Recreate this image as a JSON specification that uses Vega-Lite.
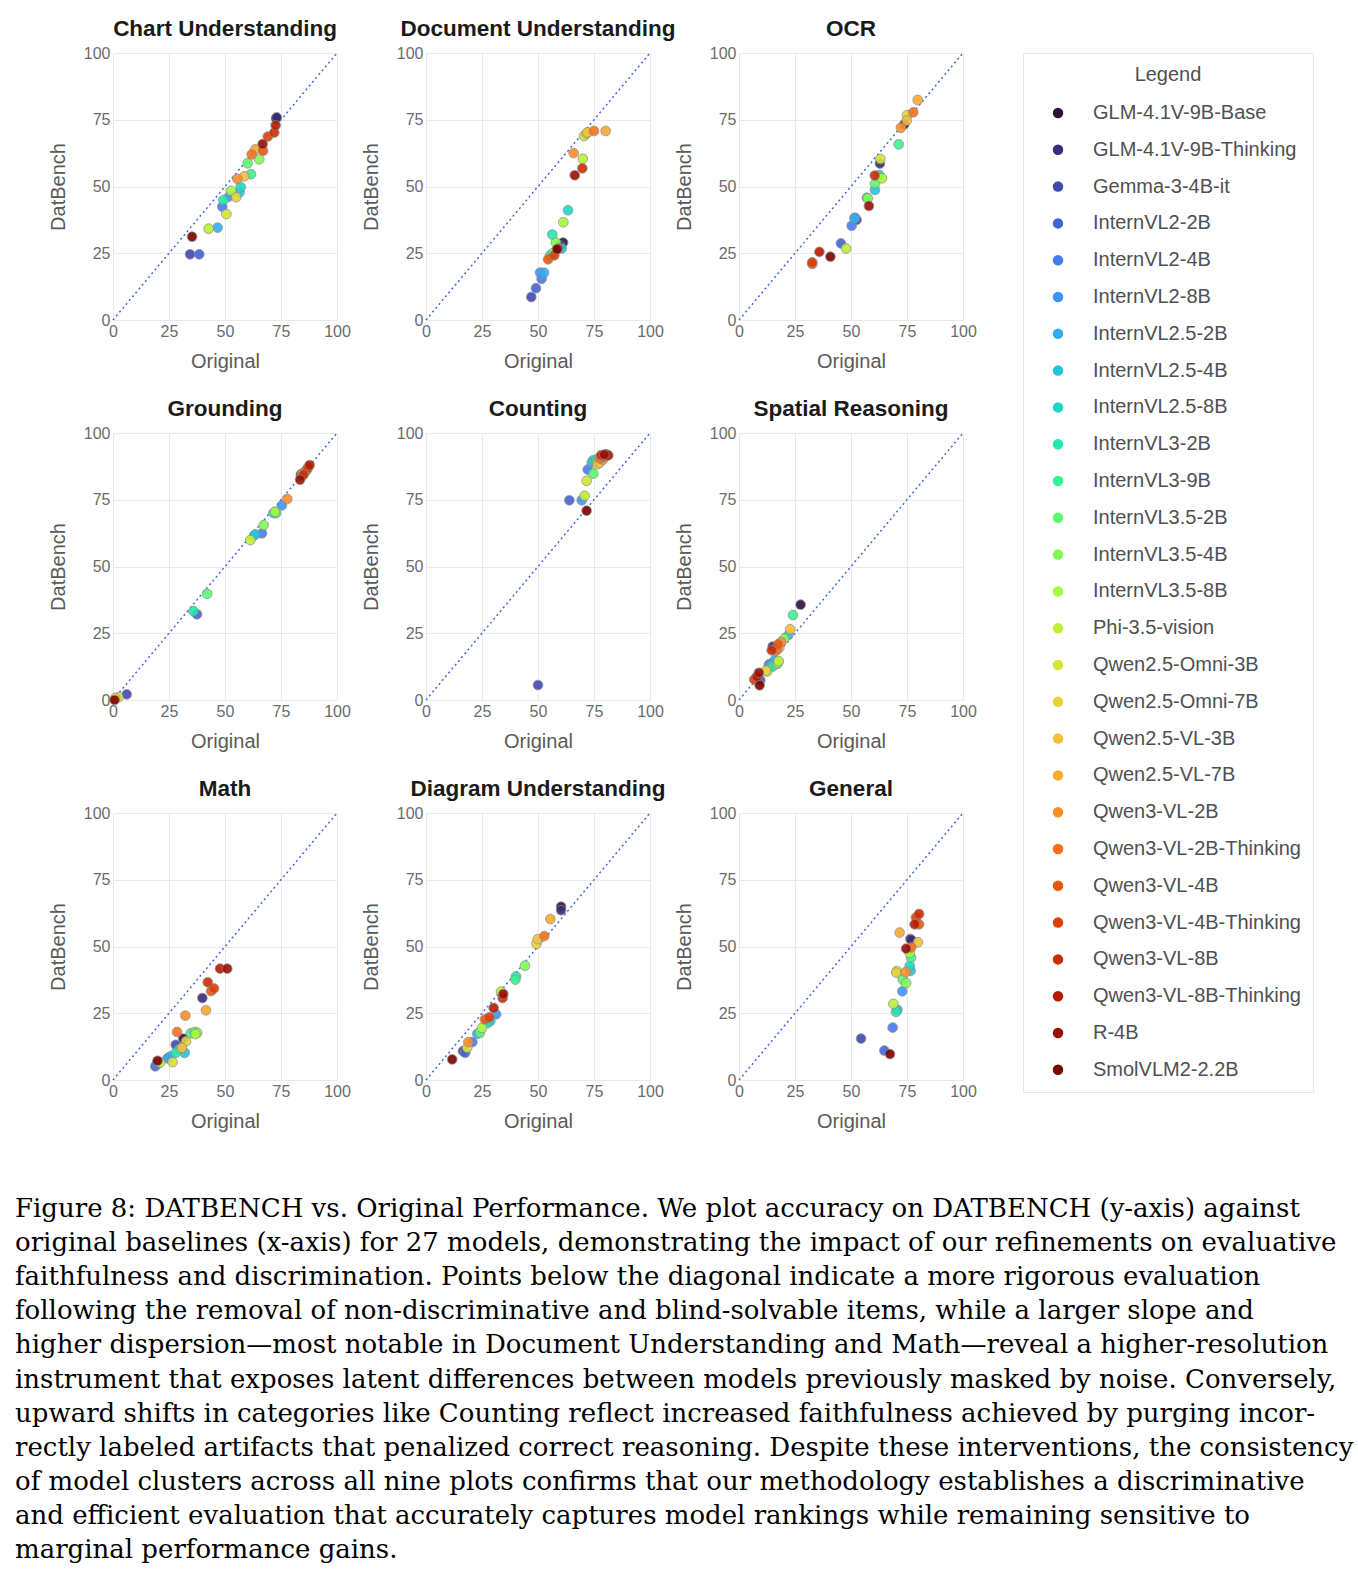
{
"$schema":"https://vega.github.io/schema/vega-lite/v6.json",
"padding":{"top":17,"left":15,"right":0,"bottom":0},
"background":"white",
"datasets":{
"diag":[{"o":0,"d":0},{"o":100,"d":100}],
"pts":[
{"p":"Chart Understanding","m":"GLM-4.1V-9B-Base","o":72.8,"d":75.5},
{"p":"Chart Understanding","m":"GLM-4.1V-9B-Thinking","o":73.1,"d":75.9},
{"p":"Chart Understanding","m":"Gemma-3-4B-it","o":34.4,"d":24.6},
{"p":"Chart Understanding","m":"InternVL2-2B","o":38.5,"d":24.6},
{"p":"Chart Understanding","m":"InternVL2-4B","o":48.8,"d":42.4},
{"p":"Chart Understanding","m":"InternVL2-8B","o":51.8,"d":46.2},
{"p":"Chart Understanding","m":"InternVL2.5-2B","o":46.7,"d":34.6},
{"p":"Chart Understanding","m":"InternVL2.5-4B","o":56.5,"d":47.8},
{"p":"Chart Understanding","m":"InternVL2.5-8B","o":57.0,"d":49.8},
{"p":"Chart Understanding","m":"InternVL3-2B","o":49.3,"d":44.9},
{"p":"Chart Understanding","m":"InternVL3-9B","o":61.6,"d":54.6},
{"p":"Chart Understanding","m":"InternVL3.5-2B","o":60.1,"d":58.7},
{"p":"Chart Understanding","m":"InternVL3.5-4B","o":65.3,"d":60.2},
{"p":"Chart Understanding","m":"InternVL3.5-8B","o":52.7,"d":48.4},
{"p":"Chart Understanding","m":"Phi-3.5-vision","o":42.7,"d":34.2},
{"p":"Chart Understanding","m":"Qwen2.5-Omni-3B","o":50.6,"d":39.7},
{"p":"Chart Understanding","m":"Qwen2.5-Omni-7B","o":55.0,"d":46.0},
{"p":"Chart Understanding","m":"Qwen2.5-VL-3B","o":58.6,"d":53.8},
{"p":"Chart Understanding","m":"Qwen2.5-VL-7B","o":63.5,"d":63.9},
{"p":"Chart Understanding","m":"Qwen3-VL-2B","o":55.5,"d":52.9},
{"p":"Chart Understanding","m":"Qwen3-VL-2B-Thinking","o":61.9,"d":62.0},
{"p":"Chart Understanding","m":"Qwen3-VL-4B","o":67.0,"d":63.4},
{"p":"Chart Understanding","m":"Qwen3-VL-4B-Thinking","o":69.1,"d":68.7},
{"p":"Chart Understanding","m":"Qwen3-VL-8B","o":72.0,"d":70.2},
{"p":"Chart Understanding","m":"Qwen3-VL-8B-Thinking","o":72.6,"d":72.9},
{"p":"Chart Understanding","m":"R-4B","o":66.8,"d":65.9},
{"p":"Chart Understanding","m":"SmolVLM2-2.2B","o":35.3,"d":31.2},
{"p":"Document Understanding","m":"GLM-4.1V-9B-Base","o":61.2,"d":29.0},
{"p":"Document Understanding","m":"GLM-4.1V-9B-Thinking","o":60.0,"d":27.8},
{"p":"Document Understanding","m":"Gemma-3-4B-it","o":47.0,"d":8.6},
{"p":"Document Understanding","m":"InternVL2-2B","o":49.1,"d":11.9},
{"p":"Document Understanding","m":"InternVL2-4B","o":51.6,"d":15.4},
{"p":"Document Understanding","m":"InternVL2-8B","o":50.9,"d":17.7},
{"p":"Document Understanding","m":"InternVL2.5-2B","o":52.7,"d":17.7},
{"p":"Document Understanding","m":"InternVL2.5-4B","o":60.6,"d":26.8},
{"p":"Document Understanding","m":"InternVL2.5-8B","o":63.4,"d":41.1},
{"p":"Document Understanding","m":"InternVL3-2B","o":56.4,"d":32.0},
{"p":"Document Understanding","m":"InternVL3-9B","o":55.4,"d":24.2},
{"p":"Document Understanding","m":"InternVL3.5-2B","o":56.8,"d":25.2},
{"p":"Document Understanding","m":"InternVL3.5-4B","o":58.0,"d":29.0},
{"p":"Document Understanding","m":"InternVL3.5-8B","o":61.3,"d":36.6},
{"p":"Document Understanding","m":"Phi-3.5-vision","o":70.0,"d":60.4},
{"p":"Document Understanding","m":"Qwen2.5-Omni-3B","o":70.5,"d":68.9},
{"p":"Document Understanding","m":"Qwen2.5-Omni-7B","o":71.7,"d":69.8},
{"p":"Document Understanding","m":"Qwen2.5-VL-3B","o":72.0,"d":70.3},
{"p":"Document Understanding","m":"Qwen2.5-VL-7B","o":80.2,"d":70.8},
{"p":"Document Understanding","m":"Qwen3-VL-2B","o":65.9,"d":62.5},
{"p":"Document Understanding","m":"Qwen3-VL-2B-Thinking","o":75.0,"d":70.8},
{"p":"Document Understanding","m":"Qwen3-VL-4B","o":54.5,"d":22.7},
{"p":"Document Understanding","m":"Qwen3-VL-4B-Thinking","o":57.3,"d":24.2},
{"p":"Document Understanding","m":"Qwen3-VL-8B","o":69.8,"d":56.8},
{"p":"Document Understanding","m":"Qwen3-VL-8B-Thinking","o":58.9,"d":26.7},
{"p":"Document Understanding","m":"R-4B","o":66.4,"d":54.2},
{"p":"Document Understanding","m":"SmolVLM2-2.2B","o":58.5,"d":26.5},
{"p":"OCR","m":"GLM-4.1V-9B-Base","o":73.8,"d":73.3},
{"p":"OCR","m":"GLM-4.1V-9B-Thinking","o":62.9,"d":58.6},
{"p":"OCR","m":"Gemma-3-4B-it","o":52.5,"d":37.5},
{"p":"OCR","m":"InternVL2-2B","o":45.5,"d":28.7},
{"p":"OCR","m":"InternVL2-4B","o":50.3,"d":35.3},
{"p":"OCR","m":"InternVL2-8B","o":51.8,"d":38.3},
{"p":"OCR","m":"InternVL2.5-2B","o":51.5,"d":38.1},
{"p":"OCR","m":"InternVL2.5-4B","o":60.7,"d":48.7},
{"p":"OCR","m":"InternVL2.5-8B","o":62.6,"d":54.3},
{"p":"OCR","m":"InternVL3-2B","o":57.1,"d":45.8},
{"p":"OCR","m":"InternVL3-9B","o":71.3,"d":65.8},
{"p":"OCR","m":"InternVL3.5-2B","o":60.7,"d":51.1},
{"p":"OCR","m":"InternVL3.5-4B","o":57.5,"d":45.6},
{"p":"OCR","m":"InternVL3.5-8B","o":63.8,"d":53.1},
{"p":"OCR","m":"Phi-3.5-vision","o":47.8,"d":26.8},
{"p":"OCR","m":"Qwen2.5-Omni-3B","o":63.1,"d":60.3},
{"p":"OCR","m":"Qwen2.5-Omni-7B","o":75.0,"d":76.7},
{"p":"OCR","m":"Qwen2.5-VL-3B","o":74.9,"d":74.7},
{"p":"OCR","m":"Qwen2.5-VL-7B","o":79.8,"d":82.4},
{"p":"OCR","m":"Qwen3-VL-2B","o":72.3,"d":72.0},
{"p":"OCR","m":"Qwen3-VL-2B-Thinking","o":77.8,"d":77.8},
{"p":"OCR","m":"Qwen3-VL-4B","o":32.7,"d":21.0},
{"p":"OCR","m":"Qwen3-VL-4B-Thinking","o":32.7,"d":21.6},
{"p":"OCR","m":"Qwen3-VL-8B","o":60.6,"d":54.1},
{"p":"OCR","m":"Qwen3-VL-8B-Thinking","o":35.9,"d":25.5},
{"p":"OCR","m":"R-4B","o":58.0,"d":42.7},
{"p":"OCR","m":"SmolVLM2-2.2B","o":40.8,"d":23.7},
{"p":"Grounding","m":"GLM-4.1V-9B-Base","o":83.9,"d":84.3},
{"p":"Grounding","m":"GLM-4.1V-9B-Thinking","o":84.0,"d":84.6},
{"p":"Grounding","m":"Gemma-3-4B-it","o":6.1,"d":2.1},
{"p":"Grounding","m":"InternVL2-2B","o":37.5,"d":32.1},
{"p":"Grounding","m":"InternVL2-4B","o":66.5,"d":62.4},
{"p":"Grounding","m":"InternVL2-8B","o":75.4,"d":72.9},
{"p":"Grounding","m":"InternVL2.5-2B","o":63.1,"d":61.7},
{"p":"Grounding","m":"InternVL2.5-4B","o":63.5,"d":62.0},
{"p":"Grounding","m":"InternVL2.5-8B","o":71.6,"d":70.0},
{"p":"Grounding","m":"InternVL3-2B","o":35.9,"d":33.3},
{"p":"Grounding","m":"InternVL3-9B","o":72.8,"d":70.0},
{"p":"Grounding","m":"InternVL3.5-2B","o":42.0,"d":39.8},
{"p":"Grounding","m":"InternVL3.5-4B","o":67.3,"d":65.5},
{"p":"Grounding","m":"InternVL3.5-8B","o":72.3,"d":70.5},
{"p":"Grounding","m":"Phi-3.5-vision","o":61.3,"d":59.9},
{"p":"Grounding","m":"Qwen2.5-Omni-3B","o":2.4,"d":1.0},
{"p":"Grounding","m":"Qwen2.5-Omni-7B","o":1.0,"d":0.8},
{"p":"Grounding","m":"Qwen2.5-VL-3B","o":84.5,"d":84.8},
{"p":"Grounding","m":"Qwen2.5-VL-7B","o":85.2,"d":85.2},
{"p":"Grounding","m":"Qwen3-VL-2B","o":77.8,"d":75.3},
{"p":"Grounding","m":"Qwen3-VL-2B-Thinking","o":86.0,"d":85.6},
{"p":"Grounding","m":"Qwen3-VL-4B","o":86.6,"d":86.3},
{"p":"Grounding","m":"Qwen3-VL-4B-Thinking","o":87.0,"d":87.0},
{"p":"Grounding","m":"Qwen3-VL-8B","o":85.0,"d":84.3},
{"p":"Grounding","m":"Qwen3-VL-8B-Thinking","o":87.8,"d":88.0},
{"p":"Grounding","m":"R-4B","o":83.5,"d":82.5},
{"p":"Grounding","m":"SmolVLM2-2.2B","o":0.7,"d":0.0},
{"p":"Counting","m":"GLM-4.1V-9B-Base","o":80.5,"d":92.0},
{"p":"Counting","m":"GLM-4.1V-9B-Thinking","o":79.0,"d":91.5},
{"p":"Counting","m":"Gemma-3-4B-it","o":50.0,"d":5.6},
{"p":"Counting","m":"InternVL2-2B","o":64.0,"d":74.8},
{"p":"Counting","m":"InternVL2-4B","o":72.2,"d":86.3},
{"p":"Counting","m":"InternVL2-8B","o":69.5,"d":74.8},
{"p":"Counting","m":"InternVL2.5-2B","o":74.0,"d":89.0},
{"p":"Counting","m":"InternVL2.5-4B","o":75.5,"d":89.5},
{"p":"Counting","m":"InternVL2.5-8B","o":74.7,"d":89.8},
{"p":"Counting","m":"InternVL3-2B","o":76.0,"d":90.0},
{"p":"Counting","m":"InternVL3-9B","o":77.0,"d":90.5},
{"p":"Counting","m":"InternVL3.5-2B","o":74.7,"d":84.8},
{"p":"Counting","m":"InternVL3.5-4B","o":76.5,"d":89.0},
{"p":"Counting","m":"InternVL3.5-8B","o":78.0,"d":89.5},
{"p":"Counting","m":"Phi-3.5-vision","o":70.8,"d":76.5},
{"p":"Counting","m":"Qwen2.5-Omni-3B","o":71.7,"d":82.1},
{"p":"Counting","m":"Qwen2.5-Omni-7B","o":76.5,"d":88.3},
{"p":"Counting","m":"Qwen2.5-VL-3B","o":77.5,"d":88.8},
{"p":"Counting","m":"Qwen2.5-VL-7B","o":79.0,"d":90.0},
{"p":"Counting","m":"Qwen3-VL-2B","o":78.0,"d":90.5},
{"p":"Counting","m":"Qwen3-VL-2B-Thinking","o":77.7,"d":90.5},
{"p":"Counting","m":"Qwen3-VL-4B","o":79.5,"d":91.0},
{"p":"Counting","m":"Qwen3-VL-4B-Thinking","o":80.0,"d":91.5},
{"p":"Counting","m":"Qwen3-VL-8B","o":78.2,"d":91.7},
{"p":"Counting","m":"Qwen3-VL-8B-Thinking","o":81.4,"d":91.6},
{"p":"Counting","m":"R-4B","o":79.6,"d":91.9},
{"p":"Counting","m":"SmolVLM2-2.2B","o":71.7,"d":70.9},
{"p":"Spatial Reasoning","m":"GLM-4.1V-9B-Base","o":27.5,"d":35.7},
{"p":"Spatial Reasoning","m":"GLM-4.1V-9B-Thinking","o":15.0,"d":20.0},
{"p":"Spatial Reasoning","m":"Gemma-3-4B-it","o":9.5,"d":7.4},
{"p":"Spatial Reasoning","m":"InternVL2-2B","o":9.0,"d":7.8},
{"p":"Spatial Reasoning","m":"InternVL2-4B","o":13.3,"d":13.1},
{"p":"Spatial Reasoning","m":"InternVL2-8B","o":13.8,"d":13.5},
{"p":"Spatial Reasoning","m":"InternVL2.5-2B","o":16.0,"d":15.0},
{"p":"Spatial Reasoning","m":"InternVL2.5-4B","o":22.0,"d":24.3},
{"p":"Spatial Reasoning","m":"InternVL2.5-8B","o":14.5,"d":12.8},
{"p":"Spatial Reasoning","m":"InternVL3-2B","o":15.0,"d":12.5},
{"p":"Spatial Reasoning","m":"InternVL3-9B","o":24.1,"d":31.8},
{"p":"Spatial Reasoning","m":"InternVL3.5-2B","o":17.0,"d":13.5},
{"p":"Spatial Reasoning","m":"InternVL3.5-4B","o":20.2,"d":23.0},
{"p":"Spatial Reasoning","m":"InternVL3.5-8B","o":17.5,"d":14.0},
{"p":"Spatial Reasoning","m":"Phi-3.5-vision","o":17.7,"d":14.6},
{"p":"Spatial Reasoning","m":"Qwen2.5-Omni-3B","o":12.6,"d":10.7},
{"p":"Spatial Reasoning","m":"Qwen2.5-Omni-7B","o":12.0,"d":11.0},
{"p":"Spatial Reasoning","m":"Qwen2.5-VL-3B","o":22.8,"d":26.5},
{"p":"Spatial Reasoning","m":"Qwen2.5-VL-7B","o":18.0,"d":19.6},
{"p":"Spatial Reasoning","m":"Qwen3-VL-2B","o":18.8,"d":21.7},
{"p":"Spatial Reasoning","m":"Qwen3-VL-2B-Thinking","o":16.8,"d":18.6},
{"p":"Spatial Reasoning","m":"Qwen3-VL-4B","o":17.4,"d":20.8},
{"p":"Spatial Reasoning","m":"Qwen3-VL-4B-Thinking","o":6.8,"d":7.7},
{"p":"Spatial Reasoning","m":"Qwen3-VL-8B","o":14.6,"d":18.6},
{"p":"Spatial Reasoning","m":"Qwen3-VL-8B-Thinking","o":8.0,"d":8.7},
{"p":"Spatial Reasoning","m":"R-4B","o":8.9,"d":10.2},
{"p":"Spatial Reasoning","m":"SmolVLM2-2.2B","o":9.2,"d":5.5},
{"p":"Math","m":"GLM-4.1V-9B-Base","o":31.4,"d":15.5},
{"p":"Math","m":"GLM-4.1V-9B-Thinking","o":39.9,"d":30.7},
{"p":"Math","m":"Gemma-3-4B-it","o":28.0,"d":13.2},
{"p":"Math","m":"InternVL2-2B","o":18.9,"d":5.1},
{"p":"Math","m":"InternVL2-4B","o":19.5,"d":6.0},
{"p":"Math","m":"InternVL2-8B","o":24.3,"d":8.1},
{"p":"Math","m":"InternVL2.5-2B","o":25.5,"d":8.8},
{"p":"Math","m":"InternVL2.5-4B","o":32.0,"d":10.2},
{"p":"Math","m":"InternVL2.5-8B","o":29.5,"d":11.5},
{"p":"Math","m":"InternVL3-2B","o":28.0,"d":10.2},
{"p":"Math","m":"InternVL3-9B","o":34.7,"d":17.5},
{"p":"Math","m":"InternVL3.5-2B","o":36.5,"d":18.0},
{"p":"Math","m":"InternVL3.5-4B","o":37.6,"d":17.7},
{"p":"Math","m":"InternVL3.5-8B","o":36.8,"d":17.2},
{"p":"Math","m":"Phi-3.5-vision","o":21.0,"d":6.5},
{"p":"Math","m":"Qwen2.5-Omni-3B","o":26.6,"d":6.7},
{"p":"Math","m":"Qwen2.5-Omni-7B","o":32.6,"d":14.5},
{"p":"Math","m":"Qwen2.5-VL-3B","o":30.7,"d":12.0},
{"p":"Math","m":"Qwen2.5-VL-7B","o":41.5,"d":26.1},
{"p":"Math","m":"Qwen3-VL-2B","o":32.3,"d":24.1},
{"p":"Math","m":"Qwen3-VL-2B-Thinking","o":28.6,"d":18.0},
{"p":"Math","m":"Qwen3-VL-4B","o":43.8,"d":33.3},
{"p":"Math","m":"Qwen3-VL-4B-Thinking","o":45.1,"d":34.3},
{"p":"Math","m":"Qwen3-VL-8B","o":42.3,"d":36.6},
{"p":"Math","m":"Qwen3-VL-8B-Thinking","o":47.8,"d":41.7},
{"p":"Math","m":"R-4B","o":51.0,"d":41.7},
{"p":"Math","m":"SmolVLM2-2.2B","o":19.9,"d":7.2},
{"p":"Diagram Understanding","m":"GLM-4.1V-9B-Base","o":60.3,"d":64.9},
{"p":"Diagram Understanding","m":"GLM-4.1V-9B-Thinking","o":60.3,"d":63.6},
{"p":"Diagram Understanding","m":"Gemma-3-4B-it","o":16.5,"d":10.8},
{"p":"Diagram Understanding","m":"InternVL2-2B","o":17.5,"d":10.2},
{"p":"Diagram Understanding","m":"InternVL2-4B","o":20.7,"d":14.2},
{"p":"Diagram Understanding","m":"InternVL2-8B","o":31.3,"d":24.6},
{"p":"Diagram Understanding","m":"InternVL2.5-2B","o":22.9,"d":17.3},
{"p":"Diagram Understanding","m":"InternVL2.5-4B","o":28.7,"d":22.1},
{"p":"Diagram Understanding","m":"InternVL2.5-8B","o":27.5,"d":21.3},
{"p":"Diagram Understanding","m":"InternVL3-2B","o":40.2,"d":38.8},
{"p":"Diagram Understanding","m":"InternVL3-9B","o":39.9,"d":37.6},
{"p":"Diagram Understanding","m":"InternVL3.5-2B","o":24.1,"d":17.7},
{"p":"Diagram Understanding","m":"InternVL3.5-4B","o":44.2,"d":42.8},
{"p":"Diagram Understanding","m":"InternVL3.5-8B","o":25.0,"d":19.5},
{"p":"Diagram Understanding","m":"Phi-3.5-vision","o":33.5,"d":33.1},
{"p":"Diagram Understanding","m":"Qwen2.5-Omni-3B","o":18.4,"d":12.1},
{"p":"Diagram Understanding","m":"Qwen2.5-Omni-7B","o":49.3,"d":51.0},
{"p":"Diagram Understanding","m":"Qwen2.5-VL-3B","o":49.9,"d":52.8},
{"p":"Diagram Understanding","m":"Qwen2.5-VL-7B","o":55.5,"d":60.3},
{"p":"Diagram Understanding","m":"Qwen3-VL-2B","o":18.9,"d":14.2},
{"p":"Diagram Understanding","m":"Qwen3-VL-2B-Thinking","o":52.8,"d":53.9},
{"p":"Diagram Understanding","m":"Qwen3-VL-4B","o":26.3,"d":22.7},
{"p":"Diagram Understanding","m":"Qwen3-VL-4B-Thinking","o":28.3,"d":23.5},
{"p":"Diagram Understanding","m":"Qwen3-VL-8B","o":34.2,"d":30.7},
{"p":"Diagram Understanding","m":"Qwen3-VL-8B-Thinking","o":30.2,"d":27.0},
{"p":"Diagram Understanding","m":"R-4B","o":34.5,"d":32.2},
{"p":"Diagram Understanding","m":"SmolVLM2-2.2B","o":11.7,"d":7.7},
{"p":"General","m":"GLM-4.1V-9B-Base","o":76.5,"d":52.8},
{"p":"General","m":"GLM-4.1V-9B-Thinking","o":76.9,"d":52.5},
{"p":"General","m":"Gemma-3-4B-it","o":54.5,"d":15.5},
{"p":"General","m":"InternVL2-2B","o":64.9,"d":11.0},
{"p":"General","m":"InternVL2-4B","o":68.6,"d":19.6},
{"p":"General","m":"InternVL2-8B","o":72.9,"d":33.2},
{"p":"General","m":"InternVL2.5-2B","o":70.7,"d":26.3},
{"p":"General","m":"InternVL2.5-4B","o":76.6,"d":40.9},
{"p":"General","m":"InternVL2.5-8B","o":76.2,"d":42.7},
{"p":"General","m":"InternVL3-2B","o":70.1,"d":25.5},
{"p":"General","m":"InternVL3-9B","o":76.8,"d":45.8},
{"p":"General","m":"InternVL3.5-2B","o":73.1,"d":37.6},
{"p":"General","m":"InternVL3.5-4B","o":74.6,"d":36.3},
{"p":"General","m":"InternVL3.5-8B","o":76.2,"d":47.6},
{"p":"General","m":"Phi-3.5-vision","o":68.9,"d":28.5},
{"p":"General","m":"Qwen2.5-Omni-3B","o":70.5,"d":40.8},
{"p":"General","m":"Qwen2.5-Omni-7B","o":70.2,"d":40.2},
{"p":"General","m":"Qwen2.5-VL-3B","o":79.9,"d":51.6},
{"p":"General","m":"Qwen2.5-VL-7B","o":71.7,"d":55.2},
{"p":"General","m":"Qwen3-VL-2B","o":74.4,"d":40.4},
{"p":"General","m":"Qwen3-VL-2B-Thinking","o":76.9,"d":49.7},
{"p":"General","m":"Qwen3-VL-4B","o":80.4,"d":58.3},
{"p":"General","m":"Qwen3-VL-4B-Thinking","o":79.0,"d":60.9},
{"p":"General","m":"Qwen3-VL-8B","o":80.4,"d":62.2},
{"p":"General","m":"Qwen3-VL-8B-Thinking","o":78.4,"d":58.3},
{"p":"General","m":"R-4B","o":74.6,"d":49.2},
{"p":"General","m":"SmolVLM2-2.2B","o":67.4,"d":9.7}
]},
"title":{"text":[
"Figure 8: DATBENCH vs. Original Performance. We plot accuracy on DATBENCH (y-axis) against",
"original baselines (x-axis) for 27 models, demonstrating the impact of our refinements on evaluative",
"faithfulness and discrimination. Points below the diagonal indicate a more rigorous evaluation",
"following the removal of non-discriminative and blind-solvable items, while a larger slope and",
"higher dispersion—most notable in Document Understanding and Math—reveal a higher-resolution",
"instrument that exposes latent differences between models previously masked by noise. Conversely,",
"upward shifts in categories like Counting reflect increased faithfulness achieved by purging incor-",
"rectly labeled artifacts that penalized correct reasoning. Despite these interventions, the consistency",
"of model clusters across all nine plots confirms that our methodology establishes a discriminative",
"and efficient evaluation that accurately captures model rankings while remaining sensitive to",
"marginal performance gains."],
"orient":"bottom","anchor":"start","frame":"group","font":"DejaVu Serif","fontSize":26,"fontWeight":"normal","color":"#000000","lineHeight":34.1,"offset":65,"dx":-98},
"columns":3,
"spacing":{"row":113,"column":89},
"bounds":"flush",
"concat":[
{"title":"Chart Understanding","width":224,"height":267,"layer":[
{"data":{"name":"diag"},"mark":{"type":"line","color":"#4169e1","strokeDash":[2,3],"strokeWidth":1.5},"encoding":{"x":{"field":"o","type":"quantitative","scale":{"domain":[0,100],"nice":false},"axis":{"title":"Original","values":[0,25,50,75,100]}},"y":{"field":"d","type":"quantitative","scale":{"domain":[0,100],"nice":false},"axis":{"title":"DatBench","values":[0,25,50,75,100]}}}},
{"data":{"name":"pts"},"transform":[{"filter":"datum.p==='Chart Understanding'"}],"mark":{"type":"circle","size":95,"opacity":0.9,"stroke":"#8a8a8a","strokeWidth":0.8},"encoding":{"x":{"field":"o","type":"quantitative"},"y":{"field":"d","type":"quantitative"},"color":{"field":"m","type":"nominal","scale":{"domain":["GLM-4.1V-9B-Base","GLM-4.1V-9B-Thinking","Gemma-3-4B-it","InternVL2-2B","InternVL2-4B","InternVL2-8B","InternVL2.5-2B","InternVL2.5-4B","InternVL2.5-8B","InternVL3-2B","InternVL3-9B","InternVL3.5-2B","InternVL3.5-4B","InternVL3.5-8B","Phi-3.5-vision","Qwen2.5-Omni-3B","Qwen2.5-Omni-7B","Qwen2.5-VL-3B","Qwen2.5-VL-7B","Qwen3-VL-2B","Qwen3-VL-2B-Thinking","Qwen3-VL-4B","Qwen3-VL-4B-Thinking","Qwen3-VL-8B","Qwen3-VL-8B-Thinking","R-4B","SmolVLM2-2.2B"],"range":["#30123b","#392d77","#4149b0","#4463d4","#447cef","#3d94f7","#32acf3","#22c5dd","#1ed8c6","#23e8ad","#3bf290","#5cfb70","#80fc55","#a4fc3b","#bcf137","#d4e534","#e6d338","#f5bf38","#fba831","#fb8e27","#f6701b","#eb5610","#dd3f08","#ca2c04","#b41b01","#980f01","#7a0402"]},"legend":{"title":"Legend"}}}}
]},
{"title":"Document Understanding","width":224,"height":267,"layer":[
{"data":{"name":"diag"},"mark":{"type":"line","color":"#4169e1","strokeDash":[2,3],"strokeWidth":1.5},"encoding":{"x":{"field":"o","type":"quantitative","scale":{"domain":[0,100],"nice":false},"axis":{"title":"Original","values":[0,25,50,75,100]}},"y":{"field":"d","type":"quantitative","scale":{"domain":[0,100],"nice":false},"axis":{"title":"DatBench","values":[0,25,50,75,100]}}}},
{"data":{"name":"pts"},"transform":[{"filter":"datum.p==='Document Understanding'"}],"mark":{"type":"circle","size":95,"opacity":0.9,"stroke":"#8a8a8a","strokeWidth":0.8},"encoding":{"x":{"field":"o","type":"quantitative"},"y":{"field":"d","type":"quantitative"},"color":{"field":"m","type":"nominal"}}}
]},
{"title":"OCR","width":224,"height":267,"layer":[
{"data":{"name":"diag"},"mark":{"type":"line","color":"#4169e1","strokeDash":[2,3],"strokeWidth":1.5},"encoding":{"x":{"field":"o","type":"quantitative","scale":{"domain":[0,100],"nice":false},"axis":{"title":"Original","values":[0,25,50,75,100]}},"y":{"field":"d","type":"quantitative","scale":{"domain":[0,100],"nice":false},"axis":{"title":"DatBench","values":[0,25,50,75,100]}}}},
{"data":{"name":"pts"},"transform":[{"filter":"datum.p==='OCR'"}],"mark":{"type":"circle","size":95,"opacity":0.9,"stroke":"#8a8a8a","strokeWidth":0.8},"encoding":{"x":{"field":"o","type":"quantitative"},"y":{"field":"d","type":"quantitative"},"color":{"field":"m","type":"nominal"}}}
]},
{"title":"Grounding","width":224,"height":267,"layer":[
{"data":{"name":"diag"},"mark":{"type":"line","color":"#4169e1","strokeDash":[2,3],"strokeWidth":1.5},"encoding":{"x":{"field":"o","type":"quantitative","scale":{"domain":[0,100],"nice":false},"axis":{"title":"Original","values":[0,25,50,75,100]}},"y":{"field":"d","type":"quantitative","scale":{"domain":[0,100],"nice":false},"axis":{"title":"DatBench","values":[0,25,50,75,100]}}}},
{"data":{"name":"pts"},"transform":[{"filter":"datum.p==='Grounding'"}],"mark":{"type":"circle","size":95,"opacity":0.9,"stroke":"#8a8a8a","strokeWidth":0.8},"encoding":{"x":{"field":"o","type":"quantitative"},"y":{"field":"d","type":"quantitative"},"color":{"field":"m","type":"nominal"}}}
]},
{"title":"Counting","width":224,"height":267,"layer":[
{"data":{"name":"diag"},"mark":{"type":"line","color":"#4169e1","strokeDash":[2,3],"strokeWidth":1.5},"encoding":{"x":{"field":"o","type":"quantitative","scale":{"domain":[0,100],"nice":false},"axis":{"title":"Original","values":[0,25,50,75,100]}},"y":{"field":"d","type":"quantitative","scale":{"domain":[0,100],"nice":false},"axis":{"title":"DatBench","values":[0,25,50,75,100]}}}},
{"data":{"name":"pts"},"transform":[{"filter":"datum.p==='Counting'"}],"mark":{"type":"circle","size":95,"opacity":0.9,"stroke":"#8a8a8a","strokeWidth":0.8},"encoding":{"x":{"field":"o","type":"quantitative"},"y":{"field":"d","type":"quantitative"},"color":{"field":"m","type":"nominal"}}}
]},
{"title":"Spatial Reasoning","width":224,"height":267,"layer":[
{"data":{"name":"diag"},"mark":{"type":"line","color":"#4169e1","strokeDash":[2,3],"strokeWidth":1.5},"encoding":{"x":{"field":"o","type":"quantitative","scale":{"domain":[0,100],"nice":false},"axis":{"title":"Original","values":[0,25,50,75,100]}},"y":{"field":"d","type":"quantitative","scale":{"domain":[0,100],"nice":false},"axis":{"title":"DatBench","values":[0,25,50,75,100]}}}},
{"data":{"name":"pts"},"transform":[{"filter":"datum.p==='Spatial Reasoning'"}],"mark":{"type":"circle","size":95,"opacity":0.9,"stroke":"#8a8a8a","strokeWidth":0.8},"encoding":{"x":{"field":"o","type":"quantitative"},"y":{"field":"d","type":"quantitative"},"color":{"field":"m","type":"nominal"}}}
]},
{"title":"Math","width":224,"height":267,"layer":[
{"data":{"name":"diag"},"mark":{"type":"line","color":"#4169e1","strokeDash":[2,3],"strokeWidth":1.5},"encoding":{"x":{"field":"o","type":"quantitative","scale":{"domain":[0,100],"nice":false},"axis":{"title":"Original","values":[0,25,50,75,100]}},"y":{"field":"d","type":"quantitative","scale":{"domain":[0,100],"nice":false},"axis":{"title":"DatBench","values":[0,25,50,75,100]}}}},
{"data":{"name":"pts"},"transform":[{"filter":"datum.p==='Math'"}],"mark":{"type":"circle","size":95,"opacity":0.9,"stroke":"#8a8a8a","strokeWidth":0.8},"encoding":{"x":{"field":"o","type":"quantitative"},"y":{"field":"d","type":"quantitative"},"color":{"field":"m","type":"nominal"}}}
]},
{"title":"Diagram Understanding","width":224,"height":267,"layer":[
{"data":{"name":"diag"},"mark":{"type":"line","color":"#4169e1","strokeDash":[2,3],"strokeWidth":1.5},"encoding":{"x":{"field":"o","type":"quantitative","scale":{"domain":[0,100],"nice":false},"axis":{"title":"Original","values":[0,25,50,75,100]}},"y":{"field":"d","type":"quantitative","scale":{"domain":[0,100],"nice":false},"axis":{"title":"DatBench","values":[0,25,50,75,100]}}}},
{"data":{"name":"pts"},"transform":[{"filter":"datum.p==='Diagram Understanding'"}],"mark":{"type":"circle","size":95,"opacity":0.9,"stroke":"#8a8a8a","strokeWidth":0.8},"encoding":{"x":{"field":"o","type":"quantitative"},"y":{"field":"d","type":"quantitative"},"color":{"field":"m","type":"nominal"}}}
]},
{"title":"General","width":224,"height":267,"layer":[
{"data":{"name":"diag"},"mark":{"type":"line","color":"#4169e1","strokeDash":[2,3],"strokeWidth":1.5},"encoding":{"x":{"field":"o","type":"quantitative","scale":{"domain":[0,100],"nice":false},"axis":{"title":"Original","values":[0,25,50,75,100]}},"y":{"field":"d","type":"quantitative","scale":{"domain":[0,100],"nice":false},"axis":{"title":"DatBench","values":[0,25,50,75,100]}}}},
{"data":{"name":"pts"},"transform":[{"filter":"datum.p==='General'"}],"mark":{"type":"circle","size":95,"opacity":0.9,"stroke":"#8a8a8a","strokeWidth":0.8},"encoding":{"x":{"field":"o","type":"quantitative"},"y":{"field":"d","type":"quantitative"},"color":{"field":"m","type":"nominal"}}}
]}
],
"resolve":{"scale":{"color":"shared"}},
"config":{
"font":"Liberation Sans",
"view":{"stroke":null},
"title":{"font":"Liberation Sans","fontSize":22.5,"fontWeight":"bold","color":"#1a1a1a","offset":5},
"axis":{"domain":false,"ticks":false,"grid":true,"gridColor":"#e9e9e9","gridWidth":1,"labelFont":"Liberation Sans","labelFontSize":16,"labelColor":"#6b6b6b","labelPadding":3,"labelFlush":false,"titleFont":"Liberation Sans","titleFontSize":20,"titleFontWeight":"normal","titleColor":"#5a5a5a","titlePadding":12},
"axisY":{"titlePadding":15},
"legend":{"titleFont":"Liberation Sans","titleFontSize":20,"titleFontWeight":"normal","titleColor":"#505050","titleAnchor":"middle","titlePadding":18,"labelFont":"Liberation Sans","labelFontSize":20,"labelColor":"#505050","labelOffset":25,"labelLimit":340,"rowPadding":16.8,"symbolSize":110,"symbolType":"circle","symbolStrokeWidth":0,"symbolOpacity":1,"padding":12,"symbolOffset":13,"strokeColor":"#e6e6e6","fillColor":"#ffffff","offset":46}
}
}
